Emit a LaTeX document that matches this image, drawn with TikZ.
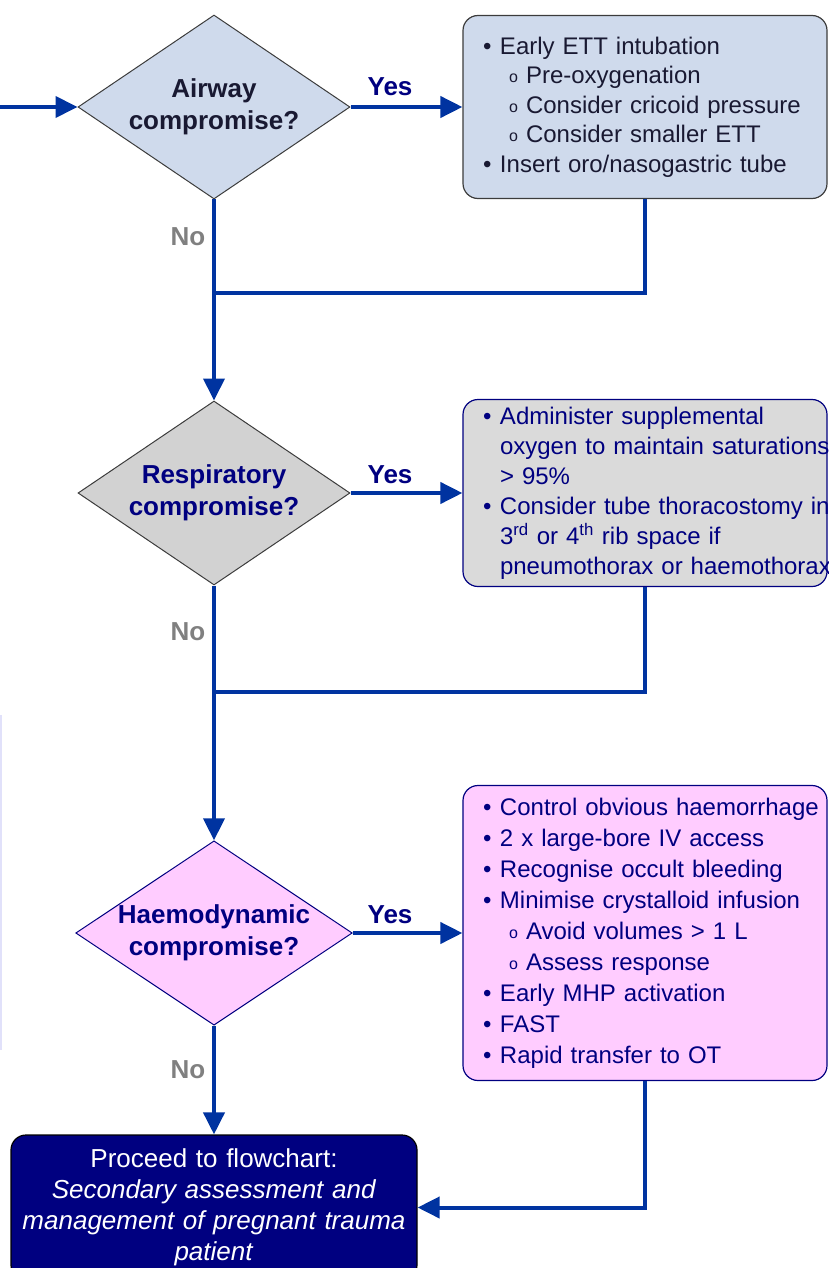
\documentclass[tikz,border=0pt]{standalone}
\usepackage{fontspec}
\setmainfont{Liberation Sans}
\usetikzlibrary{shapes.geometric,arrows.meta}
\definecolor{lineblue}{RGB}{0,51,160}
\definecolor{navy}{RGB}{0,0,128}
\definecolor{airblue}{RGB}{207,218,236}
\definecolor{respgray}{RGB}{210,210,210}
\definecolor{respfill}{RGB}{218,218,218}
\definecolor{haempink}{RGB}{255,204,255}
\definecolor{nogray}{RGB}{128,128,128}
\definecolor{inkdark}{RGB}{25,25,50}
\definecolor{edgegray}{RGB}{60,60,60}
\definecolor{faintlav}{RGB}{225,225,250}
\tikzset{
    lab/.style={
        font=\fontsize{26}{31}\selectfont\bfseries
    }
}
\newcommand{\bul}[1]{\mbox{\makebox[17pt][l]{\textbullet}#1}}
\newcommand{\subbul}[1]{\mbox{\hspace*{26pt}\makebox[17pt][l]{\raisebox{1pt}{\fontsize{16}{16}\selectfont o}}#1}}
\newcommand{\cont}[1]{\mbox{\hspace*{17pt}#1}}

\begin{document}
\begin{tikzpicture}[x=1pt,y=-1pt, line join=miter]

\tikzset{
  decision/.style={diamond, aspect=1.5, minimum width=272pt, minimum height=184pt, inner sep=0pt, line width=1pt, align=center, font=\fontsize{26}{32}\selectfont\bfseries},
  action/.style={rectangle, rounded corners=15pt, text width=324pt, inner xsep=20pt, inner ysep=0pt, align=left, line width=1.2pt},
  final/.style={rectangle, rounded corners=15pt, minimum width=406pt, minimum height=145pt, text width=392pt, inner sep=0pt, align=center, fill=navy, draw=black, line width=1.2pt, text=white, font=\fontsize{26}{31}\selectfont},
  flow/.style={draw=lineblue, line width=4pt},
  arrowed/.style={-{Triangle[length=22pt,width=21pt]}}
}

\useasboundingbox (0,0) rectangle (828,1268);
\clip (0,0) rectangle (828,1268);

\draw[faintlav, line width=1.5pt] (1,715) -- (1,1050);

\node[decision, fill=airblue, draw=edgegray, text=inkdark] (airway) at (214,107) {Airway\\compromise?};
\node[action, fill=airblue, draw=edgegray, text=inkdark, minimum height=183pt, font=\fontsize{24}{29.5}\selectfont] (airbox) at (645,107) {%
\bul{Early ETT intubation}\\
\subbul{Pre-oxygenation}\\
\subbul{Consider cricoid pressure}\\
\subbul{Consider smaller ETT}\\
\bul{Insert oro/nasogastric tube}};

\node[decision, fill=respgray, draw=edgegray, text=navy] (resp) at (214,493) {Respiratory\\compromise?};
\node[action, fill=respfill, draw=navy, text=navy, minimum height=187pt, font=\fontsize{24}{30}\selectfont] (respbox) at (645,493) {%
\bul{Administer supplemental}\\
\cont{oxygen to maintain saturations}\\
\cont{> 95\%}\\
\bul{Consider tube thoracostomy in}\\
\cont{3\textsuperscript{rd} or 4\textsuperscript{th} rib space if}\\
\cont{pneumothorax or haemothorax}};

\node[decision, fill=haempink, draw=navy, text=navy] (haemo) at (214,933) {Haemodynamic\\compromise?};
\node[action, fill=haempink, draw=navy, text=navy, minimum height=295pt, font=\fontsize{24}{31}\selectfont] (haemobox) at (645,933) {%
\bul{Control obvious haemorrhage}\\
\bul{2 x large-bore IV access}\\
\bul{Recognise occult bleeding}\\
\bul{Minimise crystalloid infusion}\\
\subbul{Avoid volumes > 1 L}\\
\subbul{Assess response}\\
\bul{Early MHP activation}\\
\bul{FAST}\\
\bul{Rapid transfer to OT}};

\node[final] (proceed) at (214,1207.5) {Proceed to flowchart:\\
\textit{Secondary assessment and}\\
\textit{management of pregnant trauma}\\
\textit{patient}};

\coordinate (entry) at (0,107);
\coordinate (join1) at (214,293);
\coordinate (join2) at (214,692);

\draw[flow, arrowed] (entry) -- (airway.west);
\draw[flow, arrowed] (airway.east) -- (airbox.west);
\draw[flow, arrowed] (airway.south) -- (resp.north);
\draw[flow] (airbox.south) |- (join1);

\draw[flow, arrowed] (resp.east) -- (respbox.west);
\draw[flow, arrowed] (resp.south) -- (haemo.north);
\draw[flow] (respbox.south) |- (join2);

\draw[flow, arrowed] (haemo.east) -- (haemobox.west);
\draw[flow, arrowed] (haemo.south) -- (proceed.north);
\draw[flow, arrowed] (haemobox.south) |- (proceed.east);

\node[lab, text=navy] (yes1) at (390,87) {Yes};
\node[lab, text=navy] (yes2) at (390,475) {Yes};
\node[lab, text=navy] (yes3) at (390,915) {Yes};
\node[lab, text=nogray] (no1) at (188,237) {No};
\node[lab, text=nogray] (no2) at (188,632) {No};
\node[lab, text=nogray] (no3) at (188,1070) {No};

\end{tikzpicture}
\end{document}
